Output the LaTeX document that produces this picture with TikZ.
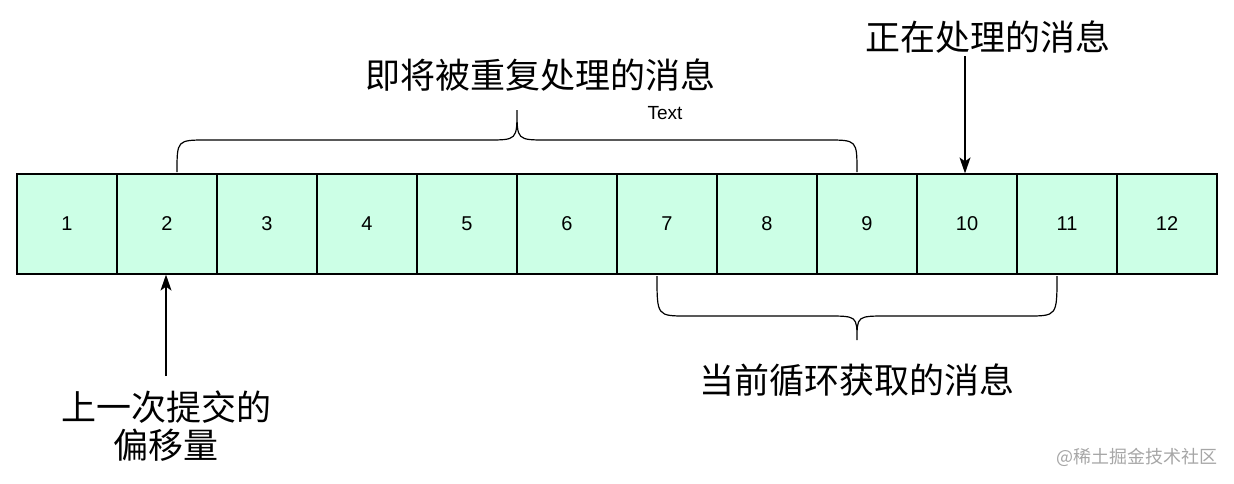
\documentclass[tikz,border=0pt]{standalone}
\usepackage{fontspec}
\usetikzlibrary{arrows.meta}
\setmainfont{Liberation Sans}
\newfontfamily\cjk{Noto Sans CJK SC}
\definecolor{cellfill}{HTML}{CCFFE6}
\begin{document}
\begin{tikzpicture}[x=1pt,y=-1pt,
  cell/.style={draw=black,line width=1.2pt,fill=cellfill,minimum width=100pt,minimum height=100pt,inner sep=0pt,font=\fontsize{20}{24}\selectfont},
  big/.style={font=\cjk\fontsize{35}{42}\selectfont,inner sep=0pt,align=center},
  brace/.style={line width=1.2pt},
  arr/.style={line width=1.3pt,-{Stealth[length=16pt,width=11pt,inset=4pt]}}]
\useasboundingbox (0,0) rectangle (1234,483);
\foreach \i in {1,...,12}{
  \node[cell] (b\i) at ({17+100*(\i-1)+50},224) {\i};
}
\draw[brace] (177,172) .. controls (177,140) .. (207,140) -- (487,140) .. controls (517,140) .. (517,110) .. controls (517,140) .. (547,140) -- (827,140) .. controls (857,140) .. (857,172);
\draw[brace] (657,276) .. controls (657,316) .. (687,316) -- (827,316) .. controls (857,316) .. (857,340) .. controls (857,316) .. (887,316) -- (1027,316) .. controls (1057,316) .. (1057,276);
\node[big] (t1) at (540,75) {即将被重复处理的消息};
\node[inner sep=0pt,font=\fontsize{19}{22}\selectfont] (t2) at (665,113) {Text};
\node[big] (t3) at (988,37) {正在处理的消息};
\coordinate (a1) at (965,56);
\draw[arr] (a1) -- (b10.north -| a1);
\node[big,align=center] (t4) at (166,426) {上一次提交的\\[-4pt]偏移量};
\coordinate (a2) at (166,376);
\draw[arr] (a2) -- (b2.south -| a2);
\node[big] (t5) at (857,380) {当前循环获取的消息};
\node[font=\cjk\fontsize{18}{20}\selectfont,text=gray!70,inner sep=0pt] (w) at (1137,457) {@稀土掘金技术社区};
\end{tikzpicture}
\end{document}
